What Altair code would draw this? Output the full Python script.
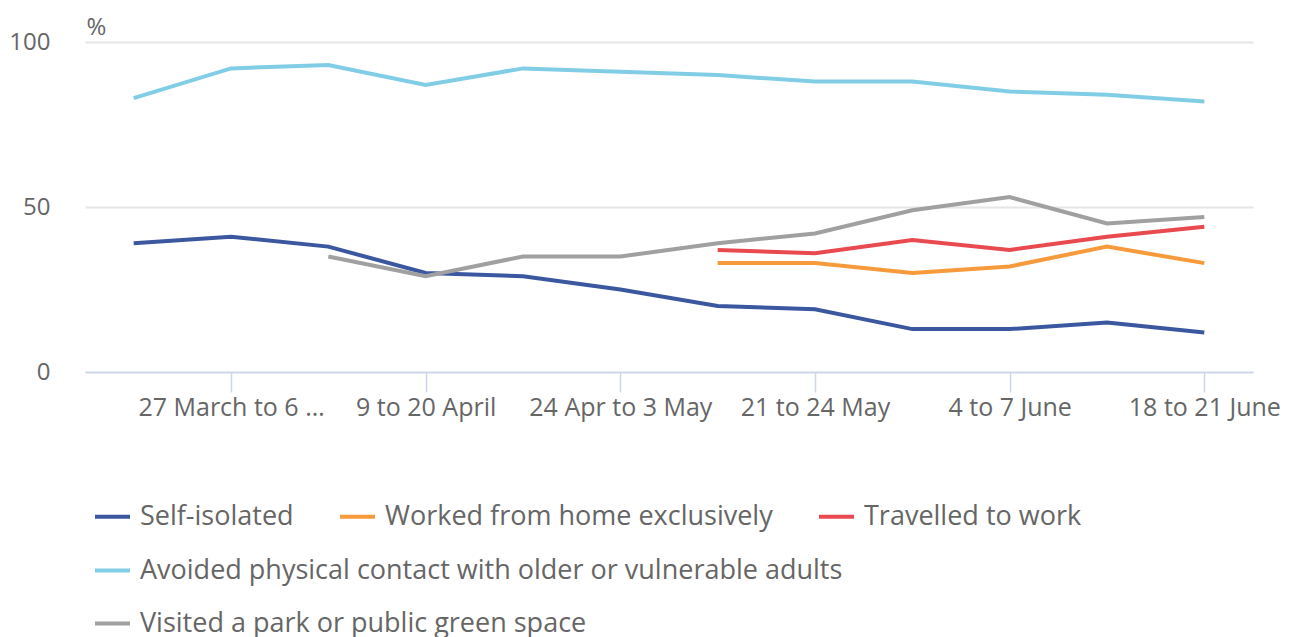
import altair as alt
import pandas as pd

periods = [
    "20 to 30 March", "27 March to 6 April", "3 to 13 April", "9 to 20 April",
    "17 to 27 April", "24 Apr to 3 May", "14 to 17 May", "21 to 24 May",
    "28 to 31 May", "4 to 7 June", "11 to 14 June", "18 to 21 June",
]
tick_periods = [periods[i] for i in (1, 3, 5, 7, 9, 11)]

self_isolated = [39, 41, 38, 30, 29, 25, 20, 19, 13, 13, 15, 12]
worked_home = [None, None, None, None, None, None, 33, 33, 30, 32, 38, 33]
travelled = [None, None, None, None, None, None, 37, 36, 40, 37, 41, 44]
avoided = [83, 92, 93, 87, 92, 91, 90, 88, 88, 85, 84, 82]
visited = [None, None, 35, 29, 35, 35, 39, 42, 49, 53, 45, 47]

# legend rows (the reference legend wraps into three rows)
row1_names = ["Self-isolated", "Worked from home exclusively", "Travelled to work"]
row1_colors = ["#3a57a0", "#f79a3c", "#e84a50"]
row2_names = ["Avoided physical contact with older or vulnerable adults"]
row2_colors = ["#82cde6"]
row3_names = ["Visited a park or public green space"]
row3_colors = ["#a0a0a0"]


def long_df(names, series):
    rows = []
    for name, vals in zip(names, series):
        for p, v in zip(periods, vals):
            if v is not None:
                rows.append({"period": p, "value": v, "series": name})
    return pd.DataFrame(rows)


df1 = long_df(row1_names, [self_isolated, worked_home, travelled])
df2 = long_df(row2_names, [avoided])
df3 = long_df(row3_names, [visited])

FONT = "Open Sans"
TXT = "#666666"

x_enc = alt.X(
    "period:N", sort=periods,
    axis=alt.Axis(values=tick_periods, title=None, labelAngle=0, tickSize=20,
                  tickColor="#ccd6eb", domainColor="#ccd6eb", domainWidth=1.5,
                  tickWidth=1.5, labelFontSize=25, labelColor=TXT, labelPadding=3,
                  labelLimit=196, grid=False, labelFont=FONT),
)
y_enc = alt.Y(
    "value:Q", scale=alt.Scale(domain=[0, 100]),
    axis=alt.Axis(values=[0, 50, 100], title="%", titleAngle=0, titleX=1, titleY=-8,
                  titleAlign="left", titleBaseline="alphabetic", titleFontWeight="normal",
                  titleFontSize=24, titleColor=TXT, titleFont=FONT, domain=False,
                  ticks=False, tickSize=0, labelPadding=35, labelFontSize=24,
                  labelColor=TXT, labelFont=FONT, gridColor="#e6e6e6", gridWidth=2),
)

legend_common = dict(
    title=None, orient="none", symbolType="stroke", symbolSize=1225,
    symbolStrokeWidth=4, labelFontSize=27, labelColor=TXT, labelFont=FONT,
    labelLimit=900, padding=0, rowPadding=18, columnPadding=38, labelOffset=8,
    direction="horizontal", legendX=8,
)


def layer(df, names, colors, ly):
    return alt.Chart(df).mark_line(strokeWidth=4).encode(
        x=x_enc, y=y_enc,
        color=alt.Color("series:N", sort=names,
                        scale=alt.Scale(domain=names, range=colors),
                        legend=alt.Legend(columns=len(names), legendY=ly, **legend_common)),
    )


chart = alt.layer(
    layer(df1, row1_names, row1_colors, 455),
    layer(df2, row2_names, row2_colors, 509),
    layer(df3, row3_names, row3_colors, 562),
).resolve_scale(color="independent").properties(
    width=1168, height=330,
    autosize=alt.AutoSizeParams(type="none"),
    padding={"left": 77, "top": 34, "right": 30, "bottom": 300},
).configure(font=FONT).configure_view(stroke=None)

chart.save("out.html", embed_options={"renderer": "svg", "actions": False})
